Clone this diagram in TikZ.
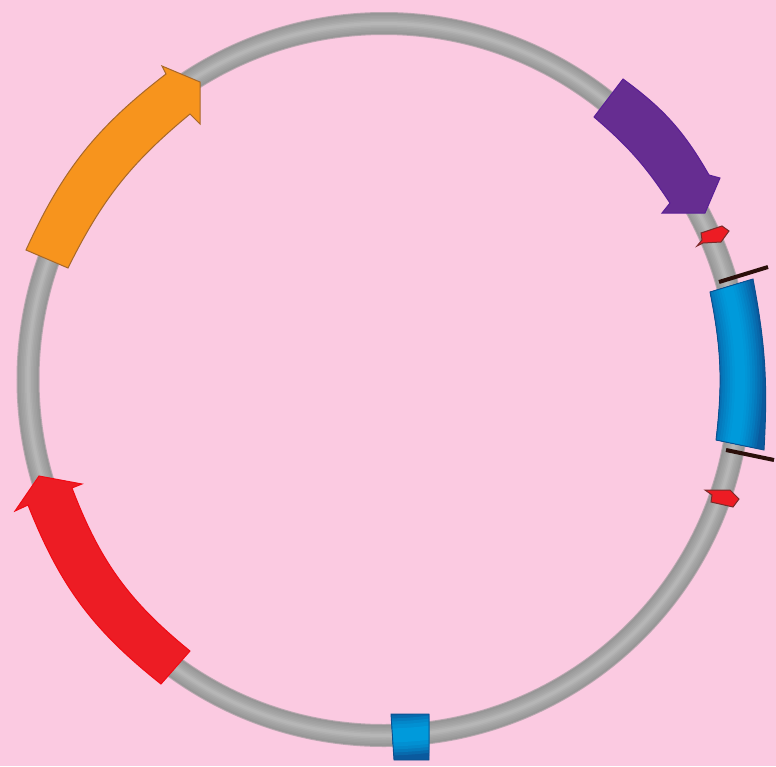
\documentclass[tikz,border=0pt]{standalone}
\definecolor{bgpink}{HTML}{FBCAE1}
\definecolor{ppl}{HTML}{662D91}
\definecolor{pplE}{HTML}{5A1E96}
\definecolor{org}{HTML}{F7941D}
\definecolor{orgE}{HTML}{A8682A}
\definecolor{rd}{HTML}{ED1C24}
\definecolor{rdE}{HTML}{F00A14}
\definecolor{rdD}{HTML}{7A2A2A}
\definecolor{tick}{HTML}{2B0F0A}
\definecolor{bD}{HTML}{0A5A9E}
\definecolor{bL}{HTML}{009ADB}
\definecolor{blE}{HTML}{0B4F8F}
\definecolor{gD}{HTML}{969696}
\definecolor{gL}{HTML}{B6B6B6}
\tikzset{
  arrowshape/.style={line width=1pt,line join=miter,miter limit=10},
  smallred/.style={fill=rd,draw=rdD,line width=1pt,line join=miter},
  ticks/.style={draw=tick,line width=4pt},
  blueedge/.style={draw=blE,line width=.9pt}
}
\begin{document}
\begin{tikzpicture}[x=1pt,y=-1pt]
\useasboundingbox (0,0) rectangle (776,766);
\fill[bgpink] (0,0) rectangle (776,766);
\coordinate (ctr) at (384,379.5);
% ring
\draw[line width=23pt,color=gD!65!bgpink] (ctr) circle[radius=356];
\foreach \w/\p in {21/0,18/15,15/30,12/45,9/60,6/80,3/100}{
  \draw[line width=\w pt,color=gL!\p!gD] (ctr) circle[radius=356];}
% orange arrow
\draw[arrowshape,fill=org,draw=orgE] (26,250) to[bend left=14] (166,74) -- (162,66) -- (200,82) -- (200,124) -- (190,114) to[bend right=12] (68,268) -- cycle;
% purple arrow
\draw[arrowshape,fill=ppl,draw=pplE] (623,79) to[bend left=12] (709,175) -- (720,178) -- (705,213) -- (662,213) -- (670,203) to[bend right=8] (594,117) -- cycle;
% red arrow
\draw[arrowshape,fill=rd,draw=rdE] (190,651) to[bend left=15] (72,488) -- (82,484) -- (39,476) -- (15,511) -- (28,505) to[bend right=15] (161,684) -- cycle;
% large blue segment
\begin{scope}
\clip (710,292) -- (753,279) to[bend left=7] (764,450) -- (716,440) to[bend right=9] cycle;
\draw[line width=70pt,color=bD] (ctr) circle[radius=356];
\foreach \w/\p in {50/0,45/20,40/35,35/50,30/62,25/74,20/85,15/93,10/100}{
  \draw[line width=\w pt,color=bL!\p!bD] (ctr) circle[radius=356];}
\end{scope}
\draw[blueedge] (710,292) -- (753,279) to[bend left=7] (764,450) -- (716,440) to[bend right=9] cycle;
% small blue segment
\begin{scope}
\clip (391,714) -- (429,714) -- (429,760) -- (394,760) -- cycle;
\draw[line width=70pt,color=bD] (ctr) circle[radius=356];
\foreach \w/\p in {46/0,40/25,34/50,28/70,22/85,14/100}{
  \draw[line width=\w pt,color=bL!\p!bD] (ctr) circle[radius=356];}
\end{scope}
\draw[blueedge] (391,714) -- (429,714) -- (429,760) -- (394,760) -- cycle;
% small red features
\draw[smallred] (701,233) -- (722,226) -- (729,231) -- (721,242) -- (703,243) -- (697,246) -- (702,240) -- cycle;
\draw[smallred] (705,490) -- (730,490) -- (739,499) -- (733,507) -- (711,502) -- (712,495) -- cycle;
% ticks
\draw[ticks] (719,282) -- (768,267);
\draw[ticks] (726,450) -- (774,460);
\end{tikzpicture}
\end{document}
